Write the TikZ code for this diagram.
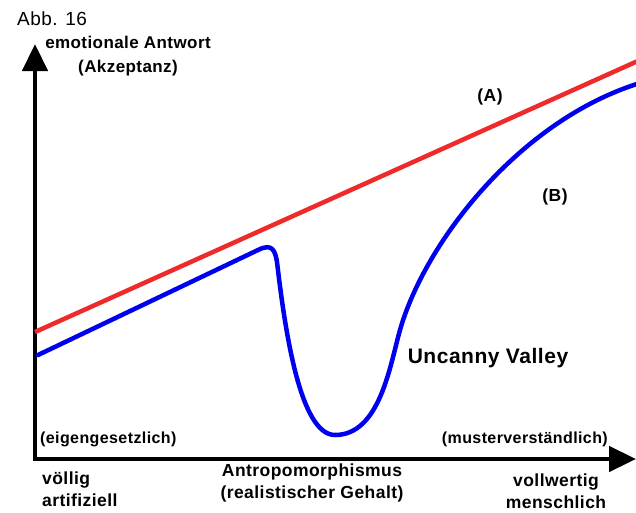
\documentclass[tikz,border=0pt]{standalone}
\usepackage{fontspec}
\setmainfont{Liberation Sans}
\newfontfamily\labelfont[LetterSpace=2.5]{Liberation Sans}
\usepackage{xcolor}
\usetikzlibrary{arrows.meta}
\definecolor{lineA}{HTML}{EE2A2A}
\definecolor{lineB}{HTML}{0000F0}

\begin{document}
\begin{tikzpicture}[
        x=1pt, y=-1pt,
        axis/.style={line width=4.5pt, line join=miter,
            {Triangle[length=27pt, width=25pt]}-{Triangle[length=27pt, width=25pt]}},
        curve/.style={line width=4.5pt, line cap=round, line join=round},
        label/.style={font=\labelfont\bfseries\fontsize{17.5}{22.5}\selectfont, inner sep=0pt, align=center},
        endlabel/.style={label, font=\labelfont\bfseries\fontsize{16}{20}\selectfont}
    ]
        \useasboundingbox[fill=white] (0,0) rectangle (636,512);

        % axes
        \coordinate (origin) at (35,459);
        \coordinate (ytip) at (35,44);
        \coordinate (xtip) at (636,459);
        \draw[axis] (ytip) -- (origin) -- (xtip);

        % (A) and (B)
        \draw[curve, lineA, line cap=butt] (35,332) -- (640,60);
        \draw[curve, lineB] (38,355) -- (258,250)
            .. controls (272,243) and (275,250) .. (277,262)
            .. controls (285,330) and (300,435) .. (335,435)
            .. controls (380,435) and (390,365) .. (400,330)
            .. controls (425,242) and (520,120) .. (640,83);

        % labels
        \node[font=\labelfont\fontsize{19}{20}\selectfont, inner sep=0pt, anchor=west] (fig) at (17,19) {Abb. 16};
        \node[label, font=\labelfont\bfseries\fontsize{17}{24}\selectfont] (yaxis) at (128,56) {emotionale Antwort\\(Akzeptanz)};
        \node[label] (nameA) at (490,97) {(A)};
        \node[label] (nameB) at (555,197) {(B)};
        \node[label, font=\labelfont\bfseries\fontsize{21}{24}\selectfont] (valley) at (488,358) {Uncanny Valley};
        \node[endlabel, anchor=west] (low) at (40,439) {(eigengesetzlich)};
        \node[endlabel, anchor=east] (high) at (608,439) {(musterverständlich)};
        \node[label, anchor=west, align=left] (left) at (42,489) {völlig\\artifiziell};
        \node[label] (middle) at (312,483) {Antropomorphismus\\(realistischer Gehalt)};
        \node[label] (right) at (556,491) {vollwertig\\menschlich};
    \end{tikzpicture}
\end{document}
